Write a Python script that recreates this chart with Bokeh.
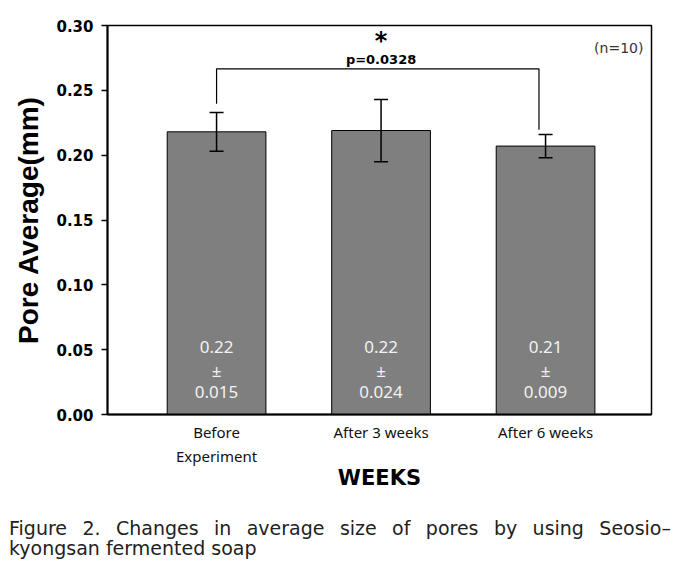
import numpy as np
from bokeh.plotting import figure
from bokeh.models import (ColumnDataSource, Whisker, TeeHead, FixedTicker,
                          PrintfTickFormatter, Range1d, Div)
from bokeh.layouts import column
from bokeh.core.properties import value
from bokeh.embed import file_html
from bokeh.resources import INLINE

# ---- data ----
categories = ["Before\nExperiment", "After 3 weeks", "After 6 weeks"]
means = [0.218, 0.219, 0.207]
sds = [0.015, 0.024, 0.009]
y_ticks = [0.00, 0.05, 0.10, 0.15, 0.20, 0.25, 0.30]
bracket_top = 0.2666
bracket_feet = [0.2396, 0.2196]
p_value = "p=0.0328"
star = "*"
n_text = "(n=10)"
x_title = "WEEKS"
y_title = "Pore Average(mm)"
caption_line1 = "Figure 2. Changes in average size of pores by using Seosio\u2013"
caption_line2 = "kyongsan fermented soap"

xs = list(range(len(categories)))

p = figure(width=668, height=517, output_backend="svg", toolbar_location=None,
           x_range=Range1d(-0.663, 2.644), y_range=Range1d(0, 0.30),
           min_border_left=107, min_border_right=17, min_border_top=25,
           min_border_bottom=103, background_fill_color="white",
           border_fill_color="white", outline_line_color="black",
           outline_line_width=1.5)
p.xgrid.visible = False
p.ygrid.visible = False

src = ColumnDataSource(dict(
    x=xs, top=means,
    upper=[m + s for m, s in zip(means, sds)],
    lower=[m - s for m, s in zip(means, sds)],
    mean_txt=[f"{m:.2f}" for m in means],
    pm=["\u00b1"] * len(xs),
    sd_txt=[f"{s:.3f}" for s in sds],
))

p.vbar(x="x", top="top", width=0.6, source=src, fill_color="#7f7f7f",
       line_color="black", line_width=1)

w = Whisker(base="x", upper="upper", lower="lower", source=src,
            line_color="black", line_width=1.5, level="annotation",
            upper_head=TeeHead(size=14, line_color="black", line_width=1.5),
            lower_head=TeeHead(size=14, line_color="black", line_width=1.5))
p.add_layout(w)

# value labels inside bars
for col, yv in (("mean_txt", 0.0517), ("pm", 0.0339), ("sd_txt", 0.0177)):
    p.text(x="x", y=yv, text=col, source=src, text_align="center",
           text_baseline="middle", text_color="#f2f2f2",
           text_font=value("Noto Sans"), text_font_size="17px")

# significance bracket
bx0, bx1 = xs[0], xs[2] - 0.04
p.line(x=[bx0, bx0, bx1, bx1],
       y=[bracket_feet[0], bracket_top, bracket_top, bracket_feet[1]],
       line_color="black", line_width=1.2)
mid = (xs[0] + xs[2]) / 2
p.text(x=[mid], y=[0.2737], text=[p_value], text_align="center",
       text_baseline="middle", text_font=value("DejaVu Sans"),
       text_font_style="bold", text_font_size="13px", text_color="black")
p.text(x=[mid], y=[0.2884], text=[star], text_align="center",
       text_baseline="alphabetic", text_font=value("DejaVu Sans"),
       text_font_style="bold", text_font_size="24px", text_color="black")
p.text(x=[2.595], y=[0.2830], text=[n_text], text_align="right",
       text_baseline="middle", text_font=value("DejaVu Sans"),
       text_font_size="14px", text_color="#333333")

# y axis
ya = p.yaxis[0]
ya.ticker = FixedTicker(ticks=y_ticks)
ya.formatter = PrintfTickFormatter(format="%.2f")
ya.major_label_text_font = "DejaVu Sans"
ya.major_label_text_font_style = "bold"
ya.major_label_text_font_size = "15px"
ya.major_label_text_color = "black"
ya.major_tick_out = 6
ya.major_tick_in = 0
ya.major_tick_line_width = 1.5
ya.minor_tick_line_color = None
ya.axis_line_width = 2
ya.major_label_standoff = 8
ya.axis_label = y_title
ya.axis_label_text_font = "Liberation Sans"
ya.axis_label_text_font_style = "bold"
ya.axis_label_text_font_size = "28px"
ya.axis_label_text_color = "black"
ya.axis_label_standoff = 9

# x axis
xa = p.xaxis[0]
xa.ticker = FixedTicker(ticks=xs)
xa.major_label_overrides = {i: c for i, c in zip(xs, categories)}
xa.major_tick_line_color = None
xa.major_tick_out = 0
xa.major_tick_in = 0
xa.minor_tick_line_color = None
xa.axis_line_width = 2
xa.major_label_standoff = 7
xa.major_label_text_font = "Noto Sans"
xa.major_label_text_font_size = "15px"
xa.major_label_text_color = "#111111"
xa.axis_label = x_title
xa.axis_label_text_font = "DejaVu Sans"
xa.axis_label_text_font_style = "bold"
xa.axis_label_text_font_size = "21px"
xa.axis_label_text_color = "black"
xa.axis_label_standoff = -3

cap_html = (
    '<div style="position:relative;top:-4px;padding-left:4px;width:662px;'
    'font-family:\'DejaVu Sans\';font-size:19px;line-height:20px;color:#222222">'
    '<div style="display:block;width:662px;text-align:justify;'
    'text-align-last:justify">' + caption_line1 + '</div>'
    '<div style="display:block;width:662px">' + caption_line2 + '</div></div>'
)
cap = Div(text=cap_html, width=670)

layout = column(p, cap, spacing=0)
open("out.html", "w").write(file_html(layout, INLINE))
